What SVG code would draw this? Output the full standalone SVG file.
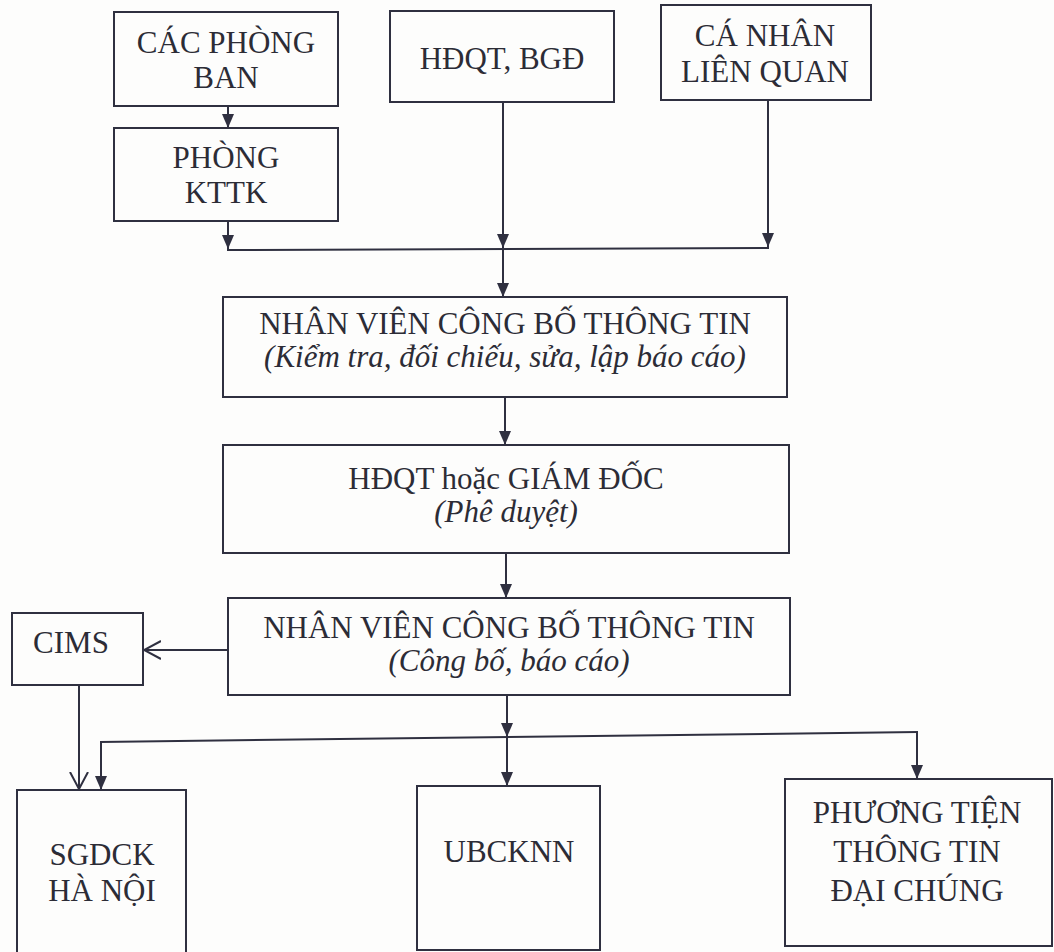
<svg xmlns="http://www.w3.org/2000/svg" width="1054" height="952" viewBox="0 0 1054 952">
<style>
.box{fill:none;stroke:#2f3040;stroke-width:2}
.ln{fill:none;stroke:#2f3040;stroke-width:2}
.t{font-family:'Liberation Serif','DejaVu Serif',serif;font-size:31px;fill:#2c2c36;text-anchor:middle}
.i{font-style:italic}
</style>
<defs>
<marker id="fa" viewBox="0 0 14 12" refX="14" refY="6" markerWidth="14" markerHeight="12" markerUnits="userSpaceOnUse" orient="auto">
<path d="M0,0 L14,6 L0,12 Z" fill="#2f3040"/>
</marker>
<marker id="oa" viewBox="0 0 18 20" refX="17" refY="10" markerWidth="18" markerHeight="20" markerUnits="userSpaceOnUse" orient="auto">
<path d="M0,1 L17,10 L0,19" fill="none" stroke="#2f3040" stroke-width="2"/>
</marker>
</defs>
<rect x="0" y="0" width="1054" height="952" fill="#fdfdfc"/>

<g id="connectors">
<line class="ln" x1="228" y1="106" x2="228" y2="128" marker-end="url(#fa)"/>
<line class="ln" x1="228" y1="221" x2="228" y2="249" marker-end="url(#fa)"/>
<line class="ln" x1="503" y1="102" x2="503" y2="248" marker-end="url(#fa)"/>
<line class="ln" x1="768" y1="100" x2="768" y2="247" marker-end="url(#fa)"/>
<line class="ln" x1="227" y1="250" x2="769" y2="248"/>
<line class="ln" x1="503" y1="249" x2="503" y2="297" marker-end="url(#fa)"/>
<line class="ln" x1="505" y1="397" x2="505" y2="445" marker-end="url(#fa)"/>
<line class="ln" x1="506" y1="553" x2="506" y2="598" marker-end="url(#fa)"/>
<line class="ln" x1="228" y1="650" x2="144" y2="650" marker-end="url(#oa)"/>
<line class="ln" x1="79" y1="685" x2="79" y2="789" marker-end="url(#oa)"/>
<line class="ln" x1="507" y1="695" x2="507" y2="737" marker-end="url(#fa)"/>
<line class="ln" x1="507" y1="737" x2="507" y2="786" marker-end="url(#fa)"/>
<line class="ln" x1="100" y1="742" x2="918" y2="732"/>
<line class="ln" x1="101" y1="742" x2="101" y2="790" marker-end="url(#fa)"/>
<line class="ln" x1="917" y1="732" x2="917" y2="779" marker-end="url(#fa)"/>
</g>

<g id="n_cacphongban">
<rect class="box" x="114" y="12" width="224" height="94"/>
<text class="t" x="226" y="53">CÁC PHÒNG</text>
<text class="t" x="226" y="88">BAN</text>
</g>
<g id="n_phongkttk">
<rect class="box" x="114" y="128" width="224" height="93"/>
<text class="t" x="226" y="168">PHÒNG</text>
<text class="t" x="226" y="203">KTTK</text>
</g>
<g id="n_hdqt_bgd">
<rect class="box" x="390" y="11" width="224" height="91"/>
<text class="t" x="502" y="69">HĐQT, BGĐ</text>
</g>
<g id="n_canhan">
<rect class="box" x="661" y="5" width="210" height="95"/>
<text class="t" x="765" y="46">CÁ NHÂN</text>
<text class="t" x="765" y="82">LIÊN QUAN</text>
</g>
<g id="n_nv1">
<rect class="box" x="223" y="297" width="564" height="100"/>
<text class="t" x="505" y="334">NHÂN VIÊN CÔNG BỐ THÔNG TIN</text>
<text class="t i" x="505" y="367">(Kiểm tra, đối chiếu, sửa, lập báo cáo)</text>
</g>
<g id="n_pheduyet">
<rect class="box" x="223" y="445" width="566" height="108"/>
<text class="t" x="506" y="489">HĐQT hoặc GIÁM ĐỐC</text>
<text class="t i" x="506" y="522">(Phê duyệt)</text>
</g>
<g id="n_nv2">
<rect class="box" x="228" y="598" width="562" height="97"/>
<text class="t" x="509" y="638">NHÂN VIÊN CÔNG BỐ THÔNG TIN</text>
<text class="t i" x="509" y="671">(Công bố, báo cáo)</text>
</g>
<g id="n_cims">
<rect class="box" x="12" y="613" width="131" height="72"/>
<text class="t" x="71" y="653">CIMS</text>
</g>
<g id="n_sgdck">
<rect class="box" x="17" y="790" width="169" height="170"/>
<text class="t" x="102" y="865">SGDCK</text>
<text class="t" x="102" y="901">HÀ NỘI</text>
</g>
<g id="n_ubcknn">
<rect class="box" x="417" y="786" width="183" height="164"/>
<text class="t" x="509" y="862">UBCKNN</text>
</g>
<g id="n_phuongtien">
<rect class="box" x="785" y="779" width="267" height="167"/>
<text class="t" x="917" y="823">PHƯƠNG TIỆN</text>
<text class="t" x="917" y="862">THÔNG TIN</text>
<text class="t" x="917" y="901">ĐẠI CHÚNG</text>
</g>
</svg>
